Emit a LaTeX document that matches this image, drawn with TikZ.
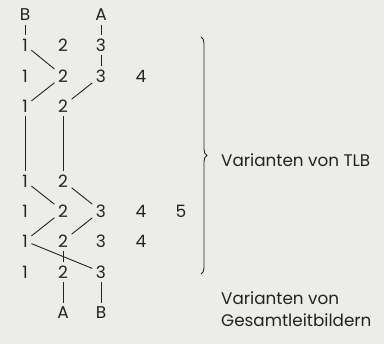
\documentclass[tikz,border=0pt]{standalone}
\usepackage{fontspec}
\setmainfont{Poppins}
\usetikzlibrary{decorations.pathreplacing}
\definecolor{paper}{RGB}{236,236,232}
\definecolor{ink}{RGB}{35,35,35}
\begin{document}
\begin{tikzpicture}[x=1pt,y=-1pt,
		digit/.style={font=\fontsize{17}{19}\selectfont\color{ink},inner sep=3.5pt},
		vlabel/.style={font=\fontsize{16.8}{22}\selectfont\color{ink},anchor=west,align=left,inner sep=0pt},
		link/.style={draw=ink,line width=0.9pt},
	]
	\fill[paper] (0,0) rectangle (384,344);
	\useasboundingbox (0,0) rectangle (384,344);
	% top ends
	\node[digit] (tB) at (25,15) {B};
	\node[digit] (tA) at (101,15) {A};
	% row 1
	\node[digit] (a1) at (25,45) {1};
	\node[digit] (a2) at (63,45) {2};
	\node[digit] (a3) at (101,45) {3};
	% row 2
	\node[digit] (b1) at (25,76) {1};
	\node[digit] (b2) at (63,76) {2};
	\node[digit] (b3) at (101,76) {3};
	\node[digit] (b4) at (141,76) {4};
	% row 3
	\node[digit] (c1) at (25,106) {1};
	\node[digit] (c2) at (63,106) {2};
	% row 4
	\node[digit] (d1) at (25,181) {1};
	\node[digit] (d2) at (63,181) {2};
	% row 5
	\node[digit] (e1) at (25,211) {1};
	\node[digit] (e2) at (63,211) {2};
	\node[digit] (e3) at (101,211) {3};
	\node[digit] (e4) at (141,211) {4};
	\node[digit] (e5) at (181,211) {5};
	% row 6
	\node[digit] (f1) at (25,241) {1};
	\node[digit] (f2) at (63,241) {2};
	\node[digit] (f3) at (101,241) {3};
	\node[digit] (f4) at (141,241) {4};
	% row 7
	\node[digit] (g1) at (25,272) {1};
	\node[digit] (g2) at (63,272) {2};
	\node[digit] (g3) at (101,272) {3};
	% bottom ends
	\node[digit] (bA) at (63,313) {A};
	\node[digit] (bB) at (101,313) {B};
	% connections
	\draw[link] (tB) -- (a1);
	\draw[link] (tA) -- (a3);
	\draw[link] (a1) -- (b2);
	\draw[link] (a3) -- (b3);
	\draw[link] (b2) -- (c1);
	\draw[link] (b3) -- (c2);
	\draw[link] (c1) -- (d1);
	\draw[link] (c2) -- (d2);
	\draw[link] (d1) -- (e2);
	\draw[link] (d2) -- (e3);
	\draw[link] (e2) -- (f1);
	\draw[link] (e3) -- (f2);
	\draw[link] (f1) -- (g3);
	\draw[link] (f2) -- (g2);
	\draw[link] (g2) -- (bA);
	\draw[link] (g3) -- (bB);
	% brace and texts
	\coordinate (brtop) at (201,37);
	\coordinate (brbot) at (201,274);
	\draw[link,decorate,decoration={brace,amplitude=6pt}] (brtop) -- (brbot);
	\node[vlabel] (tlb) at (221,160) {Varianten von TLB};
	\node[vlabel,anchor=north west] (glb) at (221,292) {Varianten von\\Gesamtleitbildern};
\end{tikzpicture}
\end{document}
